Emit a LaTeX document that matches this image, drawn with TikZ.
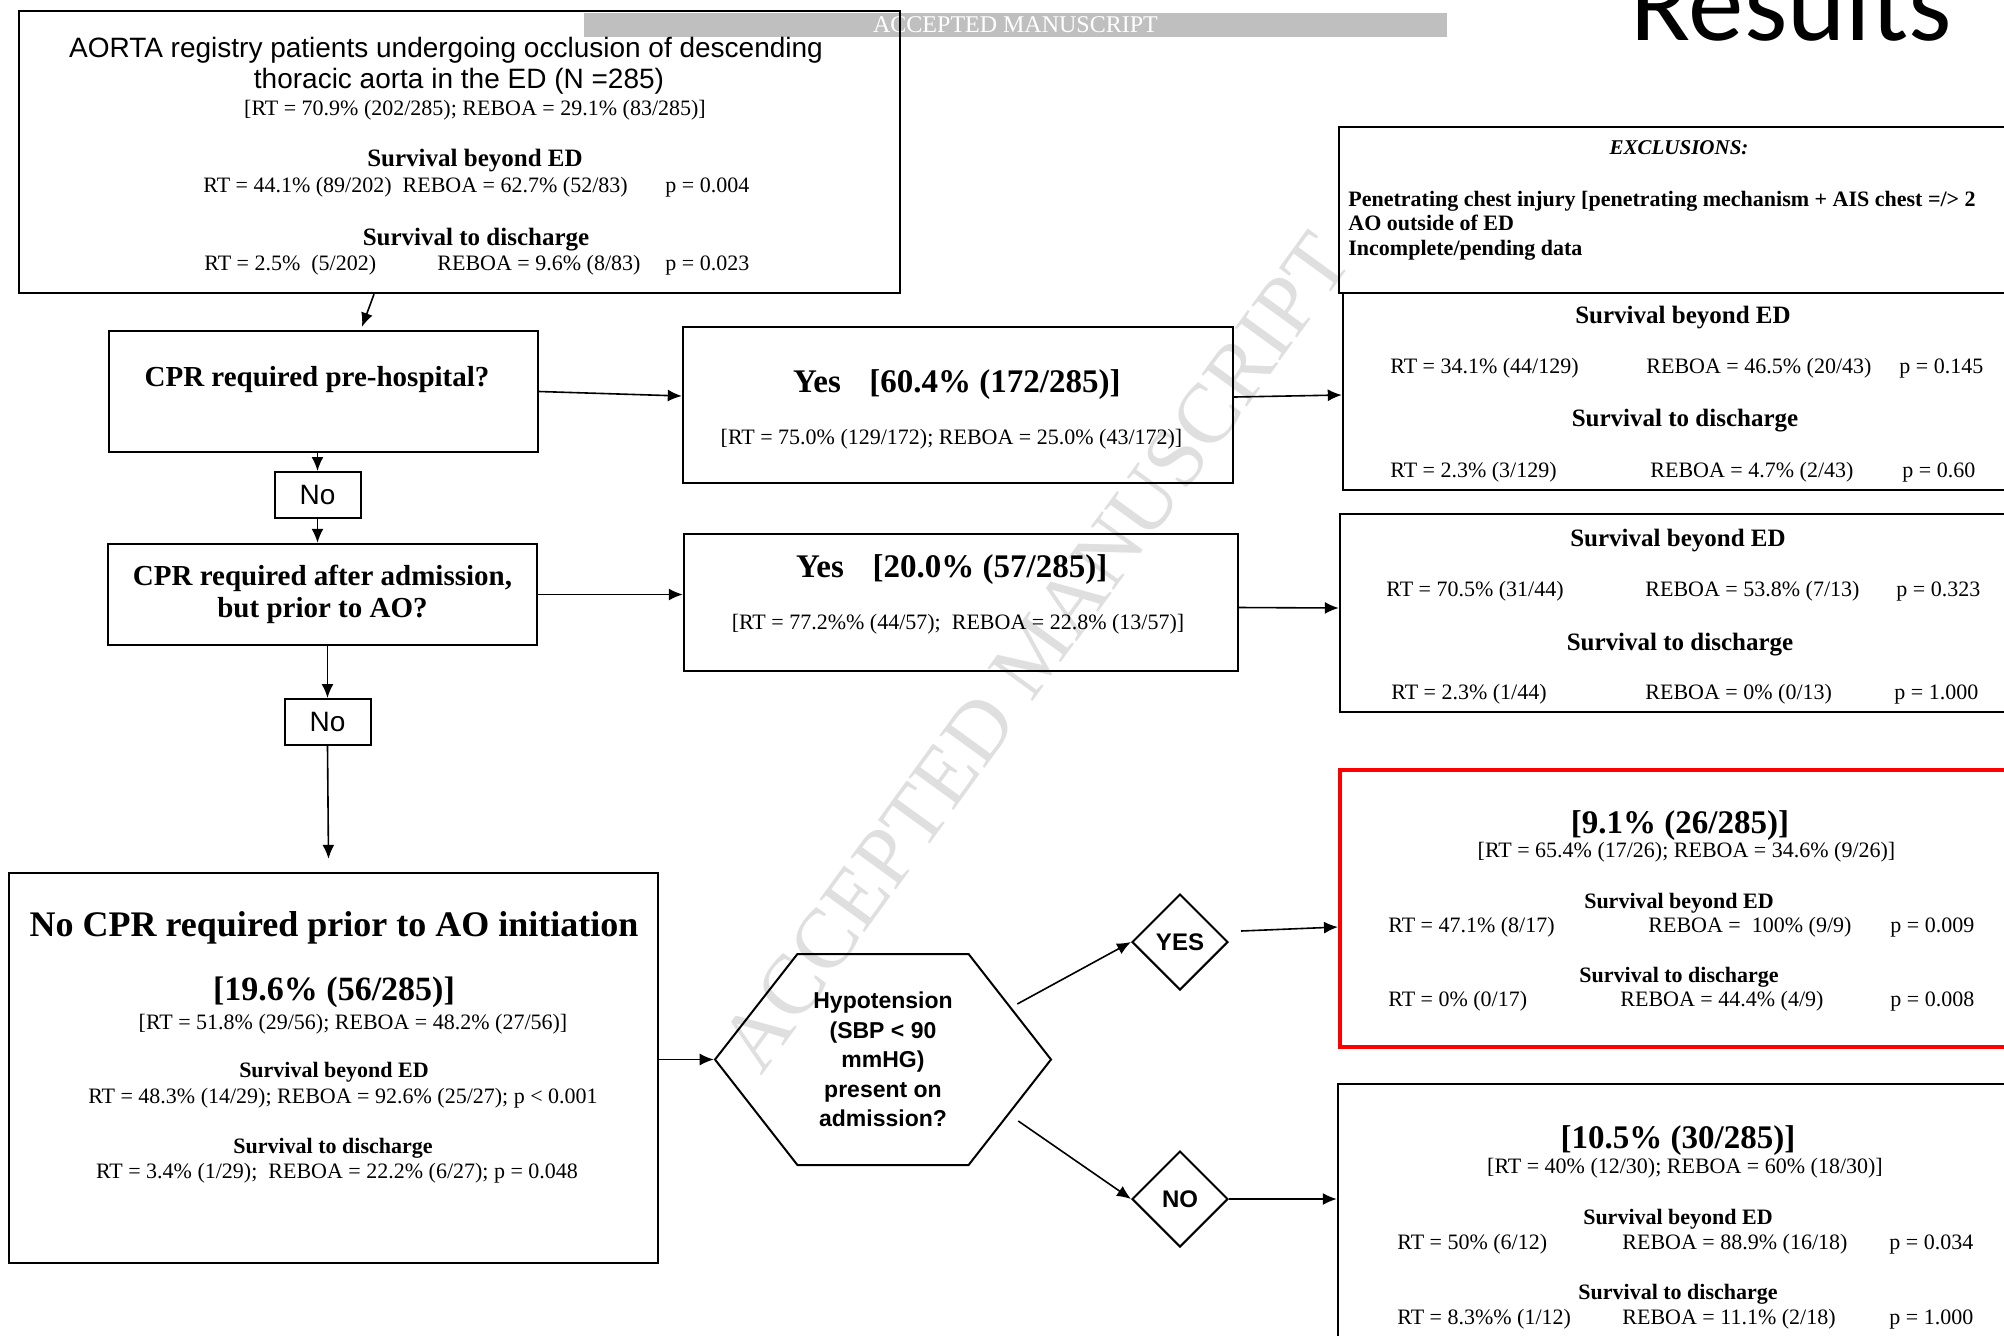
\documentclass[tikz,border=0pt]{standalone}
\usepackage{fontspec}
\setmainfont{Liberation Serif}
\newfontfamily\arialfont{Liberation Sans}
\newfontfamily\calibrifont{Carlito}
\usetikzlibrary{arrows.meta,calc,shapes.geometric,shapes.symbols}
\tikzset{
  box/.style={draw, line width=1.2pt, inner sep=0pt},
  txt/.style={inner sep=0pt, anchor=base},
  txtw/.style={inner sep=0pt, anchor=base west},
  arr/.style={line width=0.8pt, -{Latex[length=7pt,width=6pt]}},
  body/.style={font=\fontsize{11}{13}\selectfont},
  head/.style={font=\bfseries\fontsize{12.5}{15}\selectfont},
  headsm/.style={font=\bfseries\fontsize{11}{13}\selectfont},
  big/.style={font=\bfseries\fontsize{16.5}{19}\selectfont},
  quest/.style={font=\bfseries\fontsize{14.5}{16}\selectfont},
  nobox/.style={box, line width=1pt, minimum width=43pt, minimum height=23pt, font=\arialfont\fontsize{14}{16}\selectfont},
  choice/.style={draw, diamond, line width=1pt, minimum width=48pt, minimum height=48pt, inner sep=0pt, font=\arialfont\bfseries\fontsize{12}{12}\selectfont}
}
\begin{document}
\begin{tikzpicture}[x=0.5pt, y=-0.5pt]
\useasboundingbox (0,0) rectangle (2004,1335);
\clip (0,0) rectangle (2004,1335);

% watermark and banner
\node[rotate=54, inner sep=0pt, text=gray!25, font=\fontsize{42.5}{50}\selectfont] (watermark) at (1035,652) {ACCEPTED MANUSCRIPT};
\node[fill=gray!50, minimum width=431.5pt, minimum height=12pt, inner sep=0pt, text=white, font=\fontsize{12}{12}\selectfont] (banner) at (1015.5,25) {ACCEPTED MANUSCRIPT};
\node[txtw, font=\calibrifont\fontsize{55.5}{60}\selectfont] (results) at (1630,40) {Results};

% registry box
\node[box, minimum width=440.5pt, minimum height=141pt] (aorta) at (459.5,152) {};
\node[txt, font=\arialfont\fontsize{14}{16}\selectfont] (aortat1) at (446,57) {AORTA registry patients undergoing occlusion of descending};
\node[txt, font=\arialfont\fontsize{14}{16}\selectfont] (aortat2) at (459,88) {thoracic aorta in the ED (N =285)};
\node[txt, body] (aortasplit) at (475,115) {[RT = 70.9\% (202/285); REBOA = 29.1\% (83/285)]};
\node[txt, head] (aortah1) at (475,166) {Survival beyond ED};
\node[txtw, body] (aortar1) at (203,192) {RT = 44.1\% (89/202)\ \ REBOA = 62.7\% (52/83)};
\node[txtw, body] (aortap1) at (665,192) {p = 0.004};
\node[txt, head] (aortah2) at (476,245) {Survival to discharge};
\node[txtw, body] (aortar2) at (204,270) {RT = 2.5\%\ \ (5/202)};
\node[txtw, body] (aortab2) at (437,270) {REBOA = 9.6\% (8/83)};
\node[txtw, body] (aortap2) at (665,270) {p = 0.023};

% CPR questions
\node[box, minimum width=214.5pt, minimum height=60.5pt] (cpr1) at (323.5,391.5) {};
\node[txt, quest] (cpr1t) at (317,386) {CPR required pre-hospital?};
\node[nobox] (no1) at (317.5,495) {No};
\node[box, quest, align=center, minimum width=214.5pt, minimum height=50.5pt] (cpr2) at (322.5,594.5) {CPR required after admission,\\but prior to AO?};
\node[nobox] (no2) at (327.5,722) {No};

% yes branches
\node[box, minimum width=275pt, minimum height=78pt] (yes1) at (958,405) {};
\node[txt, big] (yes1a) at (817,392) {Yes};
\node[txt, big] (yes1b) at (995,392) {[60.4\% (172/285)]};
\node[txt, body] (yes1c) at (951.5,444) {[RT = 75.0\% (129/172); REBOA = 25.0\% (43/172)]};
\node[box, minimum width=277pt, minimum height=68.5pt] (yes2) at (961,602.5) {};
\node[txt, big] (yes2a) at (820,577) {Yes};
\node[txt, big] (yes2b) at (990,577) {[20.0\% (57/285)]};
\node[txt, body] (yes2c) at (958,629) {[RT = 77.2\%\% (44/57);\ \ REBOA = 22.8\% (13/57)]};

% exclusions
\node[box, minimum width=345.5pt, minimum height=83pt] (excl) at (1684.5,210) {};
\node[txt, font=\bfseries\itshape\fontsize{10.5}{12}\selectfont] (exclh) at (1679,154) {EXCLUSIONS:};
\node[txtw, headsm] (excl1) at (1348,206) {Penetrating chest injury [penetrating mechanism + AIS chest =/> 2};
\node[txtw, headsm] (excl2) at (1348,230) {AO outside of ED};
\node[txtw, headsm] (excl3) at (1348,255) {Incomplete/pending data};

% survival after pre-hospital CPR
\node[box, minimum width=343.5pt, minimum height=98.5pt] (surv1) at (1686.5,391.5) {};
\node[txt, head] (surv1h1) at (1683,323) {Survival beyond ED};
\node[txtw, body] (surv1r1) at (1390,373) {RT = 34.1\% (44/129)};
\node[txtw, body] (surv1b1) at (1646,373) {REBOA = 46.5\% (20/43)};
\node[txtw, body] (surv1p1) at (1899,373) {p = 0.145};
\node[txt, head] (surv1h2) at (1685,426) {Survival to discharge};
\node[txtw, body] (surv1r2) at (1390,477) {RT = 2.3\% (3/129)};
\node[txtw, body] (surv1b2) at (1650,477) {REBOA = 4.7\% (2/43)};
\node[txtw, body] (surv1p2) at (1902,477) {p = 0.60};

% survival after in-hospital CPR
\node[box, minimum width=345pt, minimum height=99pt] (surv2) at (1685,613) {};
\node[txt, head] (surv2h1) at (1678,546) {Survival beyond ED};
\node[txtw, body] (surv2r1) at (1386,596) {RT = 70.5\% (31/44)};
\node[txtw, body] (surv2b1) at (1645,596) {REBOA = 53.8\% (7/13)};
\node[txtw, body] (surv2p1) at (1896,596) {p = 0.323};
\node[txt, head] (surv2h2) at (1680,650) {Survival to discharge};
\node[txtw, body] (surv2r2) at (1391,699) {RT = 2.3\% (1/44)};
\node[txtw, body] (surv2b2) at (1645,699) {REBOA = 0\% (0/13)};
\node[txtw, body] (surv2p2) at (1894,699) {p = 1.000};

% no CPR
\node[box, minimum width=324.5pt, minimum height=195pt] (nocpr) at (333.5,1068) {};
\node[txt, font=\bfseries\fontsize{18}{21}\selectfont] (nocprt) at (334,936) {No CPR required prior to AO initiation};
\node[txt, font=\bfseries\fontsize{17}{20}\selectfont] (nocprn) at (334,1000) {[19.6\% (56/285)]};
\node[txt, body] (nocprs) at (353,1029) {[RT = 51.8\% (29/56); REBOA = 48.2\% (27/56)]};
\node[txt, headsm] (nocprh1) at (334,1077) {Survival beyond ED};
\node[txt, body] (nocprr1) at (343,1103) {RT = 48.3\% (14/29); REBOA = 92.6\% (25/27); p < 0.001};
\node[txt, headsm] (nocprh2) at (333,1153) {Survival to discharge};
\node[txt, body] (nocprr2) at (337,1178) {RT = 3.4\% (1/29);\ \ REBOA = 22.2\% (6/27); p = 0.048};

% hypotension split
\node[draw, line width=1pt, shape=signal, signal to=east and west, signal pointer angle=104, minimum width=168pt, minimum height=105.5pt, inner sep=0pt, align=center, font=\arialfont\bfseries\fontsize{11.5}{14.75}\selectfont] (hyp) at (883,1059.5) {Hypotension\\(SBP < 90\\mmHG)\\present on\\admission?};
\node[choice] (yesd) at (1180,942) {YES};
\node[choice] (nod) at (1180,1199) {NO};

\node[box, draw=red, line width=2pt, minimum width=345pt, minimum height=138.5pt] (hypoyes) at (1685,908.5) {};
\node[txt, big] (hypoyesn) at (1680,833) {[9.1\% (26/285)]};
\node[txt, body] (hypoyess) at (1686.5,857) {[RT = 65.4\% (17/26); REBOA = 34.6\% (9/26)]};
\node[txt, headsm] (hypoyesh1) at (1679,908) {Survival beyond ED};
\node[txtw, body] (hypoyesr1) at (1388,932) {RT = 47.1\% (8/17)};
\node[txtw, body] (hypoyesb1) at (1648,932) {REBOA =\ \ 100\% (9/9)};
\node[txtw, body] (hypoyesp1) at (1890,932) {p = 0.009};
\node[txt, headsm] (hypoyesh2) at (1679,982) {Survival to discharge};
\node[txtw, body] (hypoyesr2) at (1388,1006) {RT = 0\% (0/17)};
\node[txtw, body] (hypoyesb2) at (1620,1006) {REBOA = 44.4\% (4/9)};
\node[txtw, body] (hypoyesp2) at (1890,1006) {p = 0.008};

\node[box, minimum width=346pt, minimum height=158pt] (hyponot) at (1684,1242) {};
\node[txt, big] (hyponotn) at (1678,1148) {[10.5\% (30/285)]};
\node[txt, body] (hyponots) at (1685,1173) {[RT = 40\% (12/30); REBOA = 60\% (18/30)]};
\node[txt, headsm] (hyponoth1) at (1678,1224) {Survival beyond ED};
\node[txtw, body] (hyponotr1) at (1397,1249) {RT = 50\% (6/12)};
\node[txtw, body] (hyponotb1) at (1622,1249) {REBOA = 88.9\% (16/18)};
\node[txtw, body] (hyponotp1) at (1889,1249) {p = 0.034};
\node[txt, headsm] (hyponoth2) at (1678,1299) {Survival to discharge};
\node[txtw, body] (hyponotr2) at (1397,1324) {RT = 8.3\%\% (1/12)};
\node[txtw, body] (hyponotb2) at (1622,1324) {REBOA = 11.1\% (2/18)};
\node[txtw, body] (hyponotp2) at (1889,1324) {p = 1.000};

% connectors
\draw[arr] ($(aorta.south)+(-85.5,0)$) -- ($(cpr1.north)+(38.5,-3)$);
\draw[arr] (cpr1.east) -- ($(yes1.west)+(0,-9)$);
\draw[arr] ($(yes1.east)+(0,-8)$) -- ($(surv1.west)+(0,3.5)$);
\draw[arr] (no1.north |- cpr1.south) -- (no1.north);
\draw[arr] (no1.south) -- (no1.south |- cpr2.north);
\draw[arr] (cpr2.east) -- (cpr2.east -| yes2.west);
\draw[arr] ($(yes2.east)+(0,5)$) -- ($(surv2.west)+(0,-5)$);
\draw[arr] (no2.north |- cpr2.south) -- (no2.north);
\draw[arr] (no2.south) -- ($(nocpr.north)+(-5,-13)$);
\draw[arr] (nocpr.east |- hyp.west) -- (hyp.west);
\draw[arr] ($(hyp.east)+(-35,-55.5)$) -- (yesd.west);
\draw[arr] ($(hyp.east)+(-34,61.5)$) -- (nod.west);
\draw[arr] ($(yesd.east)+(12,-11)$) -- ($(hypoyes.west)+(0,18.5)$);
\draw[arr] (nod.east) -- (nod.east -| hyponot.west);
\end{tikzpicture}
\end{document}
